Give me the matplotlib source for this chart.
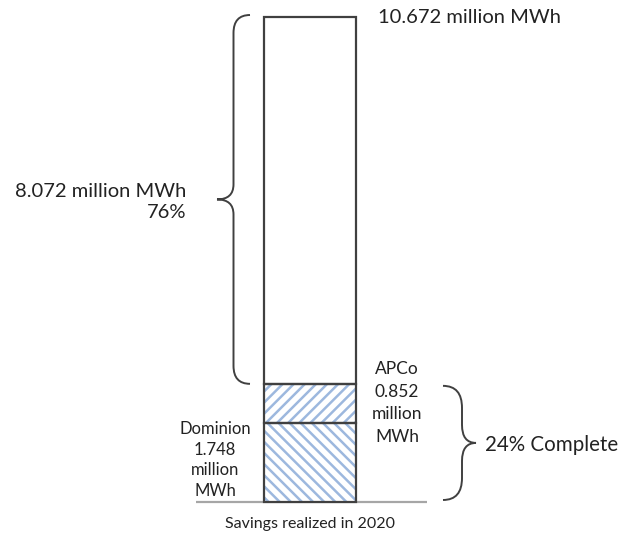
import matplotlib
matplotlib.use("Agg")
import matplotlib.pyplot as plt
from matplotlib.path import Path
from matplotlib.patches import PathPatch

# Data (million MWh)
segments = ["Dominion", "APCo", "Remaining"]
values = [1.748, 0.852, 8.072]
total = 10.672
pct_remaining = "76%"
pct_complete = "24% Complete"
xlabel = "Savings realized in 2020"

plt.rcParams['font.family'] = ['Lato', 'DejaVu Sans']
plt.rcParams['hatch.linewidth'] = 1.8

W, H = 619, 540
fig = plt.figure(figsize=(W / 100, H / 100), dpi=100)
ax = fig.add_axes([0, 0, 1, 1])
ax.set_axis_off()

ppu = 485 / total  # pixels per unit
ax.set_xlim(0, W)
ax.set_ylim(-(H - 502) / ppu, total + 17 / ppu)

txt = '#222222'
hatch_col = '#9db8de'
edge = '#404040'
xc, bw = 310, 92

bottoms = [0, values[0], values[0] + values[1]]
hatches = ['\\\\\\', '///', None]
for v, b, h in zip(values, bottoms, hatches):
    if h:
        ax.bar(xc, v, bottom=b, width=bw, color='white', edgecolor=hatch_col,
               hatch=h, linewidth=0, zorder=2)
    ax.bar(xc, v, bottom=b, width=bw, fill=False, edgecolor=edge,
           linewidth=1.6, zorder=3)

# baseline
ax.plot([196, 427], [0, 0], color='#a6a6a6', lw=1.6, zorder=1, solid_capstyle='butt')


def brace(x_end, x_line, x_tip, y0, y1, r_end, r_mid, **kw):
    ym = (y0 + y1) / 2
    verts = [(x_end, y1), (x_line, y1), (x_line, y1 - r_end),
             (x_line, ym + r_mid), (x_line, ym), (x_tip, ym),
             (x_line, ym), (x_line, ym - r_mid),
             (x_line, y0 + r_end), (x_line, y0), (x_end, y0)]
    codes = [Path.MOVETO, Path.CURVE3, Path.CURVE3,
             Path.LINETO, Path.CURVE3, Path.CURVE3,
             Path.CURVE3, Path.CURVE3,
             Path.LINETO, Path.CURVE3, Path.CURVE3]
    ax.add_patch(PathPatch(Path(verts, codes), fill=False, **kw))


sum_done = values[0] + values[1]
brace(250, 233.5, 217, sum_done, total + 2 / ppu, 18 / ppu, 15 / ppu,
      edgecolor='#404040', lw=1.4)
brace(443, 462, 476, 2 / ppu, sum_done - 2 / ppu, 22 / ppu, 18 / ppu,
      edgecolor='#404040', lw=1.4)

# labels
ax.text(378, total, f"{total:.3f} million MWh", ha='left', va='center',
        fontsize=14.5, color=txt)
ax.text(186, (502 - 202) / ppu, f"{values[2]:.3f} million MWh\n{pct_remaining}",
        ha='right', va='center', fontsize=14.5, color=txt, linespacing=1.25)
ax.text(485, (502 - 445) / ppu, pct_complete, ha='left', va='center',
        fontsize=14.8, color=txt)
ax.text(215, (502 - 460) / ppu, f"{segments[0]}\n{values[0]:.3f}\nmillion\nMWh",
        ha='center', va='center', fontsize=12, color=txt, linespacing=1.38)
ax.text(397, (502 - 403) / ppu, f"{segments[1]}\n{values[1]:.3f}\nmillion\nMWh",
        ha='center', va='center', fontsize=12.5, color=txt, linespacing=1.5)
ax.text(xc, -(524 - 502) / ppu, xlabel, ha='center', va='center',
        fontsize=11.5, color=txt)

fig.savefig("out.png", dpi=100, facecolor='white')
